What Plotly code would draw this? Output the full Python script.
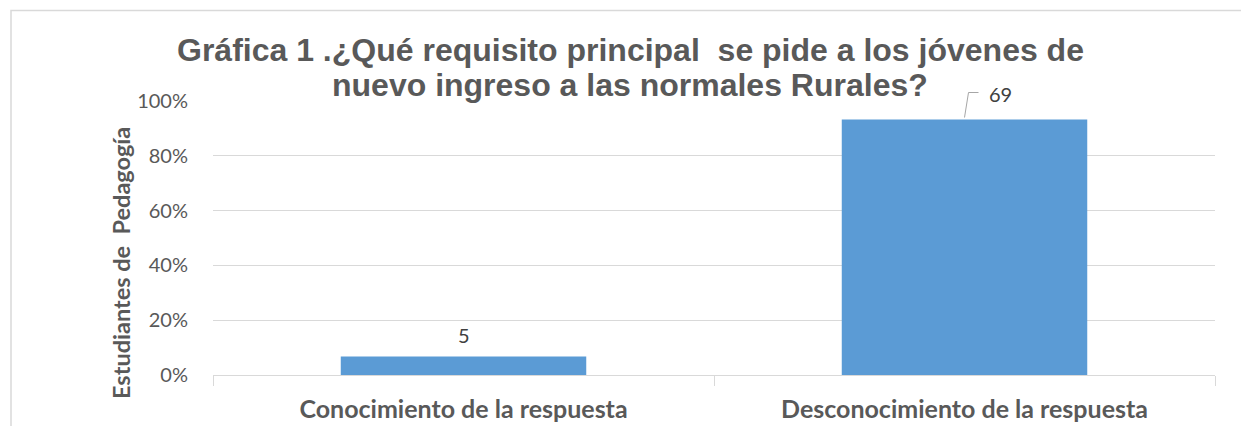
import plotly.graph_objects as go

categories = ["Conocimiento de la respuesta", "Desconocimiento de la respuesta"]
counts = [5, 69]
y_ticks = [0, 0.2, 0.4, 0.6, 0.8, 1.0]
y_tick_labels = ["0%", "20%", "40%", "60%", "80%", "100%"]
title_lines = ["Gráfica 1 .¿Qué requisito principal &nbsp;se pide a los jóvenes de",
               "nuevo ingreso a las normales Rurales?"]
y_title = "<b>Estudiantes de &nbsp;Pedagogía</b>"

total = sum(counts)
shares = [c / total for c in counts]

GRAY = "#595959"
GRID = "#d9d9d9"
BAR = "#5b9bd5"
LABEL_FONT = "Lato"

W, H = 1241, 426
L, R, T, B = 213, 26, 101, 51
PH = H - T - B
PW = W - L - R


def py(pix):
    return (H - B - pix) / PH


def px(pix):
    return (pix - L) / PW


fig = go.Figure()
fig.add_trace(go.Bar(
    x=categories, y=shares, marker=dict(color=BAR, line=dict(width=0)),
    width=0.49, hoverinfo="skip"
))

fig.update_layout(
    width=W, height=H,
    margin=dict(l=L, r=R, t=T, b=B, autoexpand=False),
    paper_bgcolor="white", plot_bgcolor="white",
    showlegend=False,
)

fig.update_xaxes(
    automargin=False, range=[-0.5, len(categories) - 0.5],
    showgrid=False, showline=True, linecolor=GRID, linewidth=1,
    ticks="outside", tickson="boundaries", ticklen=10, tickcolor=GRID,
    tickfont=dict(family=LABEL_FONT, size=25, color=GRAY),
    ticklabelstandoff=12,
    ticktext=["<b>%s</b>" % c for c in categories], tickvals=categories,
)
fig.update_yaxes(
    automargin=False,
    range=[0, 1.0], tickvals=y_ticks, ticktext=y_tick_labels,
    showgrid=True, gridcolor=GRID, gridwidth=1, zeroline=False,
    showline=False, ticks="", ticklabelstandoff=24,
    tickfont=dict(family=LABEL_FONT, size=20, color=GRAY),
)

# title (two lines, tight spacing)
for line, cy in zip(title_lines, [50, 85]):
    fig.add_annotation(xref="paper", yref="paper", x=px(630), y=py(cy),
                       text="<b>%s</b>" % line, showarrow=False,
                       xanchor="center", yanchor="middle",
                       font=dict(family="Liberation Sans, Arial", size=32, color=GRAY))

# data labels
fig.add_annotation(x=categories[0], y=shares[0], text=str(counts[0]), showarrow=False,
                   yanchor="bottom", yshift=7,
                   font=dict(family=LABEL_FONT, size=20, color="#404040"))
fig.add_annotation(x=categories[1], y=shares[1], text=str(counts[1]), showarrow=False,
                   xanchor="left", yanchor="middle", xshift=22, yshift=26,
                   font=dict(family=LABEL_FONT, size=20, color="#404040"))
# elbow leader line for the moved label, anchored to the bar top
# (paper refs so it is not clipped; axis ranges map 1:1 to paper here)
fig.add_shape(type="path", xref="paper", yref="paper", xsizemode="pixel", ysizemode="pixel",
              xanchor=(1 + 0.5) / len(categories), yanchor=shares[1],
              path="M 0,2 L 4,27 L 14,27",
              line=dict(color="#a6a6a6", width=1))

# y axis title
fig.add_annotation(xref="paper", yref="paper", x=px(121), y=py(263),
                   text=y_title, textangle=-90, showarrow=False,
                   xanchor="center", yanchor="middle",
                   font=dict(family=LABEL_FONT, size=23.5, color=GRAY))

# outer chart border (partially cropped)
fig.add_shape(type="rect", xref="paper", yref="paper",
              x0=px(11), x1=px(W + 20), y0=py(H + 20), y1=py(10.5),
              line=dict(color=GRID, width=1.5), fillcolor="rgba(0,0,0,0)", layer="below")

fig.write_html("out.html", config={"displayModeBar": False},
               post_script="document.body.style.margin='0';")
